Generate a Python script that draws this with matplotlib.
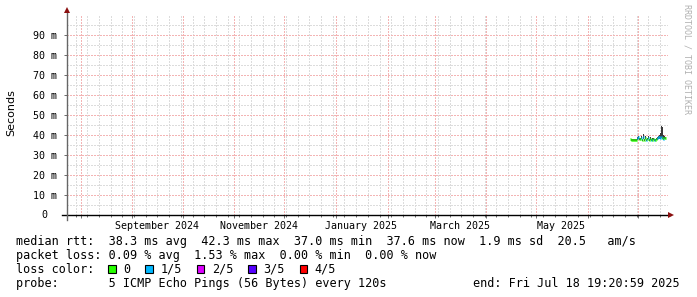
"""SmokePing style 360 day RTT graph (RRDtool look) rebuilt with matplotlib."""
import datetime as dt

import matplotlib
matplotlib.use("Agg")
import matplotlib.pyplot as plt
import matplotlib.dates as mdates
import matplotlib.transforms as mtransforms
from matplotlib.patches import Rectangle
from matplotlib.ticker import FuncFormatter, MultipleLocator
import numpy as np

W, H = 697, 297
END = dt.datetime(2025, 7, 18, 19, 20, 59)
START = END - dt.timedelta(days=360)

# consolidated samples, first one ~22 days before the end, one every 14.4 h
first_sample = END - dt.timedelta(days=22.2)
step = dt.timedelta(hours=14.4)

median_ms = [37.8, 37.5, 37.4, 37.4, 37.5, 37.4, 37.5, 38.3, 38.9, 38.1,
             37.8, 38.6, 37.4, 38.9, 37.6, 38.7, 37.3, 37.8, 38.6, 37.5,
             38.2, 37.4, 37.7, 38.0, 37.4, 37.3, 37.8, 38.3, 38.8, 38.9,
             38.6, 38.9, 38.3, 37.9, 38.6, 38.4]
smoke_lo = [37.3, 37.1, 37.0, 37.1, 37.1, 37.0, 37.1, 37.7, 38.0, 37.5,
            37.3, 37.8, 37.0, 38.0, 37.1, 37.9, 37.0, 37.3, 37.8, 37.1,
            37.6, 37.0, 37.2, 37.5, 37.0, 37.0, 37.3, 37.7, 38.0, 38.0,
            38.0, 38.3, 37.8, 37.4, 38.0, 37.8]
smoke_hi = [38.6, 37.9, 37.8, 37.8, 37.9, 37.8, 37.9, 39.0, 39.6, 38.7,
            38.4, 39.3, 38.0, 40.3, 38.2, 39.4, 37.9, 38.5, 39.3, 38.1,
            38.9, 38.0, 38.4, 38.7, 38.0, 37.9, 38.5, 39.0, 39.6, 40.0,
            41.0, 44.6, 44.2, 39.8, 39.3, 39.0]
loss_count = [0, 0, 0, 0, 0, 0, 0, 1, 1, 0,
              0, 1, 0, 1, 0, 0, 1, 0, 1, 0,
              0, 1, 0, 0, 1, 0, 0, 1, 1, 1,
              1, 1, 0, 1, 0, 0]

loss_labels = ["0", "1/5", "2/5", "3/5", "4/5"]
loss_colors = ["#26ff00", "#00b8ff", "#dd00ff", "#5500ff", "#ff0000"]
month_labels = ["September 2024", "November 2024", "January 2025", "March 2025", "May 2025"]
label_dates = [dt.datetime(2024, 9, 16), dt.datetime(2024, 11, 16), dt.datetime(2025, 1, 16),
               dt.datetime(2025, 3, 16), dt.datetime(2025, 5, 16)]

legend_lines = [
    "median rtt:  38.3 ms avg  42.3 ms max  37.0 ms min  37.6 ms now  1.9 ms sd  20.5   am/s",
    "packet loss: 0.09 % avg  1.53 % max  0.00 % min  0.00 % now",
    "loss color:",
    "probe:       5 ICMP Echo Pings (56 Bytes) every 120s",
]
end_text = "end: Fri Jul 18 19:20:59 2025"

MONO = "DejaVu Sans Mono"
GRID_MINOR = "#dcdcdc"
GRID_MAJOR = "#f3b4b4"
ARROW = "#8b1010"


def px(x, y):
    return x / W, 1 - y / H


fig = plt.figure(figsize=(W / 100, H / 100), dpi=100)
fig.patch.set_facecolor("white")
# 2 px per ms, zero at y=215; top just under 100 so no 100 line/label
ax = fig.add_axes([67 / W, (H - 215) / H, (668 - 67) / W, 199.6 / H])
ax.set_facecolor("white")

times = [first_sample + i * step for i in range(len(median_ms))]
tnum = mdates.date2num(times)
half = step.total_seconds() / 86400 / 2

ax.fill_between(tnum, smoke_lo, smoke_hi, step="mid", color="#3a3a3a", lw=0, zorder=3)
ax.hlines(median_ms, tnum - half, tnum + half,
          colors=[loss_colors[c] for c in loss_count], lw=2.0, zorder=4)

ax.set_xlim(mdates.date2num(START), mdates.date2num(END))
ax.set_ylim(0, 99.8)

# grids
ax.xaxis.set_major_locator(mdates.MonthLocator())
ax.xaxis.set_minor_locator(mdates.WeekdayLocator(byweekday=mdates.MO))
ax.xaxis.set_major_formatter(FuncFormatter(lambda v, p: ""))
ax.yaxis.set_major_locator(MultipleLocator(10))
ax.yaxis.set_minor_locator(MultipleLocator(5))
ax.yaxis.set_major_formatter(FuncFormatter(lambda v, p: "" if v == 0 else f"{v:.0f} m"))
ax.grid(which="minor", color=GRID_MINOR, linestyle=(0, (1, 1.5)), lw=0.75, antialiased=False)
ax.grid(which="major", color=GRID_MAJOR, linestyle=(0, (1, 1.5)), lw=0.75, antialiased=False)
ax.tick_params(which="both", direction="out", color="#555555", width=0.6)
ax.tick_params(axis="x", which="major", length=2.5)
ax.tick_params(axis="x", which="minor", length=1.5)
ax.tick_params(axis="y", which="major", length=2, pad=5)
ax.tick_params(axis="y", which="minor", length=0)
for lab in ax.get_yticklabels():
    lab.set_fontfamily(MONO)
    lab.set_fontsize(7.2)
for s in ax.spines.values():
    s.set_visible(False)

# RRDtool puts the bare zero where the digits of the other labels sit
ytrans = mtransforms.blended_transform_factory(fig.transFigure, ax.transData)
ax.text(47 / W, 0, "0", transform=ytrans, ha="right", va="center",
        fontfamily=MONO, fontsize=7.2, color="black")

# month labels centered mid-month
trans = mtransforms.blended_transform_factory(ax.transData, fig.transFigure)
for d, lab in zip(label_dates, month_labels):
    ax.text(mdates.date2num(d), 1 - 229 / H, lab, transform=trans, ha="center",
            va="baseline", fontfamily=MONO, fontsize=7.2, color="black")

# axes with arrows
fig.add_artist(plt.Line2D([62 / W, 670 / W], [1 - 215 / H] * 2, color="black", lw=1.0))
fig.add_artist(plt.Line2D([67 / W] * 2, [1 - 220 / H, 1 - 11 / H], color="#666666", lw=1.0))
fig.add_artist(plt.Line2D([671 / W], [1 - 215 / H], marker=">", color=ARROW, ms=4, mew=0))
fig.add_artist(plt.Line2D([67 / W], [1 - 10 / H], marker="^", color=ARROW, ms=4, mew=0))

fig.text(*px(11, 113), "Seconds", rotation=90, ha="center", va="center",
         fontfamily="DejaVu Sans", fontsize=8)
fig.text(*px(687, 4), "RRDTOOL / TOBI OETIKER", rotation=-90, ha="center", va="top",
         fontfamily=MONO, fontsize=6, color="#b0b0b0")

# legend block
baselines = [245, 259, 273, 287]
for line, yb in zip(legend_lines, baselines):
    fig.text(*px(16, yb), line, ha="left", va="baseline", fontfamily=MONO, fontsize=8.5)
fig.text(*px(680, 287), end_text, ha="right", va="baseline", fontfamily=MONO, fontsize=8.5)

char_w = 7.1
pen = 108
for lab, col in zip(loss_labels, loss_colors):
    bx, by = px(pen, 272.5)
    fig.add_artist(Rectangle((bx, by), 7.5 / W, 7.5 / H, transform=fig.transFigure,
                             facecolor=col, edgecolor="black", lw=0.8))
    fig.text(*px(pen + 15, 273), lab, ha="left", va="baseline", fontfamily=MONO, fontsize=8.5)
    pen = pen + 15 + (len(lab) + 2) * char_w + 1

fig.savefig("out.png", dpi=100, facecolor="white")
